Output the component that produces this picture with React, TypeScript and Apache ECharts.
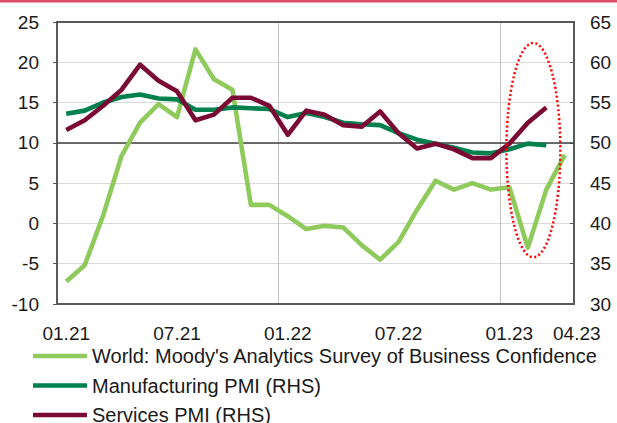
import React, { useEffect, useRef } from "react";
import * as echarts from "echarts";

const months: string[] = [
  "01.21", "02.21", "03.21", "04.21", "05.21", "06.21", "07.21", "08.21", "09.21", "10.21", "11.21", "12.21",
  "01.22", "02.22", "03.22", "04.22", "05.22", "06.22", "07.22", "08.22", "09.22", "10.22", "11.22", "12.22",
  "01.23", "02.23", "03.23", "04.23",
];
const shownLabels: string[] = ["01.21", "07.21", "01.22", "07.22", "01.23", "04.23"];

const worldConfidence: number[] = [
  -7.2, -5.2, 1.0, 8.4, 12.5, 14.8, 13.2, 21.6, 17.9, 16.6, 2.3, 2.3,
  0.9, -0.7, -0.3, -0.5, -2.7, -4.5, -2.3, 1.7, 5.3, 4.2, 5.0, 4.2,
  4.5, -3.0, 4.2, 8.5,
];
const manufacturingPMI: number[] = [
  53.6, 54.0, 55.0, 55.7, 56.0, 55.5, 55.4, 54.1, 54.1, 54.4, 54.3, 54.2,
  53.2, 53.7, 53.2, 52.5, 52.3, 52.2, 51.2, 50.4, 49.9, 49.4, 48.8, 48.7,
  49.2, 49.9, 49.7,
];
const servicesPMI: number[] = [
  51.6, 52.8, 54.6, 56.6, 59.7, 57.7, 56.4, 52.8, 53.5, 55.6, 55.6, 54.6,
  51.0, 54.0, 53.5, 52.2, 52.0, 53.9, 51.2, 49.3, 49.9, 49.2, 48.1, 48.1,
  49.9, 52.5, 54.4,
];

const seriesNames: string[] = [
  "World: Moody's Analytics Survey of Business Confidence",
  "Manufacturing PMI (RHS)",
  "Services PMI (RHS)",
];
const colors: string[] = ["#8fcb5c", "#00804c", "#7a0a33"];

// highlighted region (data coordinates on left axis)
const highlightIndexCenter = 25.3;
const highlightHalfWidth = 1.46;
const highlightTop = 22.4;
const highlightBottom = -4.2;

const FONT = "'Liberation Sans', Arial, sans-serif";

export default function App() {
  const ref = useRef<HTMLDivElement>(null);
  useEffect(() => {
    document.body.style.margin = "0";
    if (!ref.current) return;
    const chart = echarts.init(ref.current, undefined, { renderer: "svg" });
    const lineSeries = (name: string, data: number[], color: string, yAxisIndex: number, extra: any = {}) => ({
      name,
      type: "line",
      data,
      yAxisIndex,
      symbol: "none",
      lineStyle: { color, width: 4.6, join: "round" },
      itemStyle: { color },
      z: 3,
      ...extra,
    });
    const legendTops = [346, 375.5, 405];
    chart.setOption({
      animation: false,
      textStyle: { fontFamily: FONT },
      grid: {
        left: 57,
        right: 43,
        top: 22,
        bottom: 119,
        show: true,
        borderColor: "#595959",
        borderWidth: 2,
        backgroundColor: "transparent",
        z: 1,
      },
      legend: seriesNames.map((name, i) => ({
        orient: "horizontal",
        left: 33,
        top: legendTops[i],
        padding: 0,
        itemWidth: 54,
        itemHeight: 4.5,
        icon: "rect",
        data: [name],
        textStyle: { fontSize: 20, color: "#1a1a1a", fontFamily: FONT, lineHeight: 20 },
      })),
      xAxis: {
        type: "category",
        data: months,
        boundaryGap: true,
        axisLine: { show: false },
        axisTick: { show: false },
        axisLabel: {
          interval: (i: number) => shownLabels.includes(months[i]),
          fontSize: 19,
          color: "#1a1a1a",
          margin: 20,
          fontFamily: FONT,
          formatter: (v: string) => (v === months[months.length - 1] ? "{last|" + v + "}" : v),
          rich: { last: { padding: [0, 0, 0, 24], fontSize: 19, color: "#1a1a1a", fontFamily: FONT } },
        },
        splitLine: {
          show: true,
          interval: (i: number) => i > 0 && i % 12 === 0,
          lineStyle: { color: "#c4c4c4", width: 1 },
        },
      },
      yAxis: [
        {
          type: "value",
          min: -10,
          max: 25,
          interval: 5,
          axisLine: { show: true, lineStyle: { color: "#595959", width: 2 } },
          axisTick: { show: true, length: 4, lineStyle: { color: "#595959" } },
          axisLabel: { fontSize: 19, color: "#1a1a1a", margin: 18, fontFamily: FONT },
          splitLine: { show: true, lineStyle: { color: "#d9d9d9", width: 1 } },
        },
        {
          type: "value",
          min: 30,
          max: 65,
          interval: 5,
          position: "right",
          axisLine: { show: true, lineStyle: { color: "#595959", width: 2 } },
          axisTick: { show: true, inside: true, length: 4, lineStyle: { color: "#595959" } },
          axisLabel: { fontSize: 19, color: "#1a1a1a", margin: 16, fontFamily: FONT },
          splitLine: { show: false },
        },
      ],
      series: [
        lineSeries(seriesNames[0], worldConfidence, colors[0], 0, {
          markLine: {
            silent: true,
            symbol: "none",
            label: { show: false },
            lineStyle: { color: "#404040", width: 1.5, type: "solid" },
            data: [{ yAxis: 10 }],
            z: 2,
          },
        }),
        lineSeries(seriesNames[1], manufacturingPMI, colors[1], 1),
        lineSeries(seriesNames[2], servicesPMI, colors[2], 1),
      ],
    });

    const p0 = chart.convertToPixel({ gridIndex: 0 }, [25, highlightTop]) as number[];
    const p1 = chart.convertToPixel({ gridIndex: 0 }, [26, highlightBottom]) as number[];
    const band = p1[0] - p0[0];
    const cx = p0[0] + band * (highlightIndexCenter - 25);
    const rx = band * highlightHalfWidth;
    const cy = (p0[1] + p1[1]) / 2;
    const ry = (p1[1] - p0[1]) / 2;
    chart.setOption({
      graphic: [
        {
          type: "rect",
          left: 0,
          top: 0,
          shape: { width: 617, height: 2.5 },
          style: { fill: "#dc4f66" },
          silent: true,
        },
        {
          type: "ellipse",
          shape: { cx, cy, rx, ry },
          style: { fill: "none", stroke: "#ff0000", lineWidth: 2.5, lineDash: [2, 2.5] },
          silent: true,
          z: 10,
        },
      ],
    });
    return () => chart.dispose();
  }, []);
  return <div ref={ref} style={{ width: 617, height: 423 }} />;
}
